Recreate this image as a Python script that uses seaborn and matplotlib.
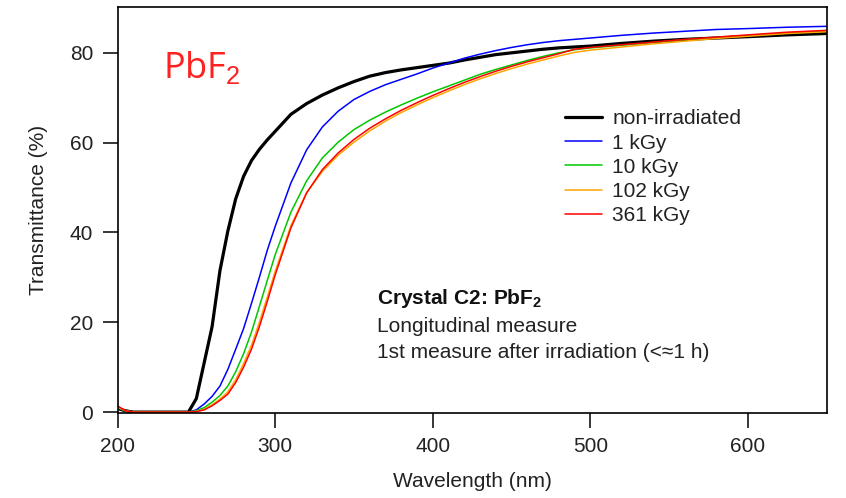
import numpy as np
import pandas as pd
import seaborn as sns
import matplotlib.pyplot as plt

# wavelength grid (nm) shared by all spectra
wavelength = [200, 205, 210, 245, 250, 255, 260, 265, 270, 275, 280, 285, 290, 295,
              300, 310, 320, 330, 340, 350, 360, 370, 380, 390, 400, 410, 420, 430,
              440, 450, 460, 470, 480, 490, 500, 520, 540, 560, 580, 600, 625, 650]

# transmittance (%)
t_nonirr = [0.8, 0.3, 0.0, 0.0, 3.0, 11.0, 19.0, 31.5, 40.3, 47.5, 52.5, 56.0, 58.5, 60.6,
            62.5, 66.3, 68.7, 70.6, 72.2, 73.6, 74.8, 75.6, 76.2, 76.7, 77.2, 77.7, 78.4, 79.0,
            79.6, 80.0, 80.4, 80.8, 81.1, 81.3, 81.5, 82.1, 82.6, 83.0, 83.3, 83.6, 84.0, 84.3]
t_1kgy = [1.0, 0.3, 0.0, 0.0, 0.5, 1.8, 3.5, 5.8, 9.5, 14.0, 18.6, 24.2, 30.0, 36.0,
          41.3, 51.0, 58.4, 63.5, 67.0, 69.6, 71.4, 72.9, 74.1, 75.3, 76.6, 77.7, 78.8, 79.7,
          80.5, 81.2, 81.8, 82.3, 82.7, 83.0, 83.3, 83.9, 84.4, 84.8, 85.2, 85.4, 85.7, 85.9]
t_10kgy = [1.0, 0.3, 0.0, 0.0, 0.3, 1.0, 2.2, 3.7, 5.8, 9.0, 13.0, 17.8, 23.5, 29.3,
           35.0, 44.5, 51.5, 56.6, 60.1, 62.9, 65.0, 66.8, 68.4, 69.9, 71.3, 72.6, 73.9, 75.2,
           76.3, 77.3, 78.3, 79.2, 80.0, 80.7, 81.1, 81.7, 82.3, 82.9, 83.4, 83.8, 84.4, 84.8]
t_102kgy = [1.1, 0.3, 0.0, 0.0, 0.15, 0.6, 1.6, 2.9, 4.5, 7.2, 10.8, 14.9, 20.0, 25.6,
            31.3, 41.5, 48.9, 53.6, 57.2, 60.1, 62.6, 64.8, 66.7, 68.4, 70.0, 71.5, 72.9, 74.2,
            75.4, 76.5, 77.5, 78.4, 79.3, 80.1, 80.6, 81.3, 82.0, 82.6, 83.2, 83.7, 84.3, 84.7]
t_361kgy = [1.4, 0.3, 0.0, 0.0, 0.1, 0.5, 1.4, 2.6, 4.0, 6.6, 10.0, 14.0, 19.0, 24.6,
            30.5, 41.0, 48.8, 54.0, 57.7, 60.7, 63.2, 65.3, 67.2, 68.9, 70.5, 72.0, 73.4, 74.7,
            75.9, 77.0, 78.0, 78.9, 79.8, 80.8, 81.2, 81.8, 82.4, 83.0, 83.5, 84.0, 84.6, 85.0]

labels = ["non-irradiated", "1 kGy", "10 kGy", "102 kGy", "361 kGy"]
colors = ["#000000", "#0000ff", "#00c800", "#ffa500", "#ff0000"]
widths = [2.3, 1.1, 1.1, 1.1, 1.1]

series = [t_nonirr, t_1kgy, t_10kgy, t_102kgy, t_361kgy]
df = pd.concat([pd.DataFrame({"wl": wavelength, "T": s, "dose": lab})
                for s, lab in zip(series, labels)], ignore_index=True)

sns.set_style("ticks")
plt.rcParams['font.family'] = ['Liberation Sans', 'DejaVu Sans']
plt.rcParams['mathtext.fontset'] = 'custom'
plt.rcParams['mathtext.rm'] = 'Liberation Sans'
plt.rcParams['mathtext.bf'] = 'Liberation Sans:bold'

FS = 15

fig = plt.figure(figsize=(8.46, 4.98), dpi=100)
ax = fig.add_axes([0.1389, 0.1707, 0.8383, 0.8152])

for lab, col, lw in zip(labels, colors, widths):
    sns.lineplot(data=df[df["dose"] == lab], x="wl", y="T", color=col, linewidth=lw,
                 label=lab, ax=ax, estimator=None, sort=False)

ax.set_xlim(200, 650)
ax.set_ylim(-0.2, 90.2)
ax.set_xticks([200, 300, 400, 500, 600])
ax.set_yticks([0, 20, 40, 60, 80])
ax.tick_params(axis='both', direction='out', length=10.5, width=1.1, labelsize=FS,
               color='black', labelcolor='#222222')
ax.tick_params(axis='x', pad=7)
ax.tick_params(axis='y', pad=7)
for sp in ax.spines.values():
    sp.set_linewidth(1.2)
    sp.set_color('black')

ax.set_xlabel("Wavelength (nm)", fontsize=FS, labelpad=11, color='#222222')
ax.set_ylabel("Transmittance (%)", fontsize=FS, labelpad=16, color='#222222')

leg = ax.legend(loc='upper left', bbox_to_anchor=(0.631, 0.748), frameon=False,
                fontsize=FS, handlelength=1.78, handletextpad=0.48, labelspacing=0.25,
                borderpad=0, borderaxespad=0)
for t in leg.get_texts():
    t.set_color('#222222')

ax.text(228.9, 74.3, r"PbF$_2$", color='#ff2020', fontsize=26,
        family=['Open Sans', 'DejaVu Sans'], va='baseline', ha='left')

ax.text(364.6, 25.3, r"Crystal C2: PbF$_\mathbf{2}$", fontsize=FS, fontweight='bold',
        va='center', ha='left', color='#111111')
ax.text(364.6, 19.0, "Longitudinal measure", fontsize=FS, va='center', ha='left', color='#222222')
ax.text(364.6, 13.2, "1st measure after irradiation (<≈1 h)", fontsize=FS, va='center',
        ha='left', color='#222222')

fig.savefig("out.png", dpi=100)
